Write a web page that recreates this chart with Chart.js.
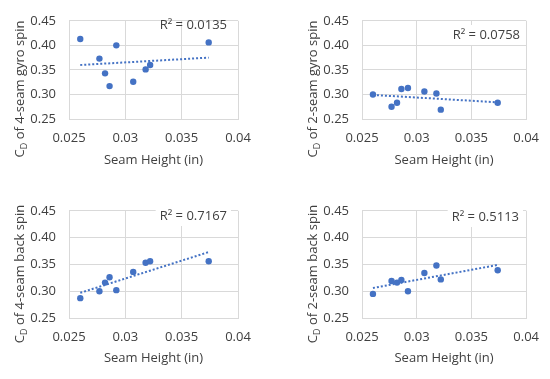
<!DOCTYPE html>
<html>
<head>
<meta charset="utf-8">
<script src="https://cdn.jsdelivr.net/npm/chart.js@4.4.1/dist/chart.umd.min.js"></script>
<style>
  body { margin: 0; background: #fff; width: 550px; height: 379px; position: relative; overflow: hidden; }
  canvas { position: absolute; }
</style>
</head>
<body>
<canvas id="c1" width="275" height="190" style="left:0;top:0"></canvas>
<canvas id="c2" width="275" height="190" style="left:275px;top:0"></canvas>
<canvas id="c3" width="275" height="189" style="left:0;top:190px"></canvas>
<canvas id="c4" width="275" height="189" style="left:275px;top:190px"></canvas>
<script>
// data
const seamHeight = [0.026, 0.0277, 0.0282, 0.0286, 0.0292, 0.0307, 0.0318, 0.0322, 0.0374];
const cd4SeamGyro = [0.413, 0.373, 0.343, 0.317, 0.400, 0.326, 0.351, 0.360, 0.406];
const cd2SeamGyro = [0.300, 0.275, 0.283, 0.311, 0.313, 0.306, 0.302, 0.269, 0.283];
const cd4SeamBack = [0.287, 0.300, 0.316, 0.326, 0.302, 0.336, 0.353, 0.356, 0.356];
const cd2SeamBack = [0.295, 0.319, 0.316, 0.321, 0.300, 0.334, 0.348, 0.322, 0.339];

// linear trendline end points (as drawn)
const trendX = [0.026, 0.0374];
const trend4SeamGyro = [0.360, 0.375];
const trend2SeamGyro = [0.299, 0.284];
const trend4SeamBack = [0.297, 0.373];
const trend2SeamBack = [0.306, 0.349];

const r2Labels = ['R² = 0.0135', 'R² = 0.0758', 'R² = 0.7167', 'R² = 0.5113'];
const yTitles = ['of 4-seam gyro spin', 'of 2-seam gyro spin', 'of 4-seam back spin', 'of 2-seam back spin'];
const xTitle = 'Seam Height (in)';
const xTickValues = [0.025, 0.03, 0.035, 0.04];
const xTickLabels = ['0.025', '0.03', '0.035', '0.04'];
const yTickValues = [0.25, 0.30, 0.35, 0.40, 0.45];
const yTickLabels = ['0.25', '0.30', '0.35', '0.40', '0.45'];

const BLUE = '#4472C4';
const GRID = '#d9d9d9';
const TEXT = '#404040';
const FONT = '"Open Sans", sans-serif';

// layout of each panel (canvas coords)
const panels = [
  { id: 'c1', y: cd4SeamGyro, trend: trend4SeamGyro, plot: { l: 69, r: 238, t: 17, b: 119 }, xTitleY: 160, yTitlePos: [20, 89], r2Pos: [227, 25], box: false },
  { id: 'c2', y: cd2SeamGyro, trend: trend2SeamGyro, plot: { l: 87, r: 255, t: 17, b: 119 }, xTitleY: 160, yTitlePos: [38, 89], r2Pos: [245, 35], box: true },
  { id: 'c3', y: cd4SeamBack, trend: trend4SeamBack, plot: { l: 69, r: 238, t: 15, b: 128 }, xTitleY: 168, yTitlePos: [20, 84], r2Pos: [227, 26], box: true },
  { id: 'c4', y: cd2SeamBack, trend: trend2SeamBack, plot: { l: 87, r: 255, t: 15, b: 128 }, xTitleY: 168, yTitlePos: [38, 84], r2Pos: [244, 27], box: true }
];

const labelsPlugin = {
  id: 'panelLabels',
  afterDraw(chart, args, opts) {
    const ctx = chart.ctx;
    const area = chart.chartArea;
    ctx.save();
    ctx.fillStyle = TEXT;
    ctx.textBaseline = 'middle';

    // x title
    ctx.font = '13px ' + FONT;
    ctx.textAlign = 'center';
    ctx.fillText(xTitle, (area.left + area.right) / 2, opts.xTitleY);

    // y title with subscript D
    ctx.save();
    ctx.translate(opts.yTitlePos[0], opts.yTitlePos[1]);
    ctx.rotate(-Math.PI / 2);
    ctx.textAlign = 'left';
    const big = '13px ' + FONT, small = '9px ' + FONT;
    ctx.font = big;
    const wC = ctx.measureText('C').width;
    const rest = ' ' + opts.yTitle;
    const wRest = ctx.measureText(rest).width;
    ctx.font = small;
    const wD = ctx.measureText('D').width;
    let x = -(wC + wD + wRest) / 2;
    ctx.font = big;
    ctx.fillText('C', x, 0);
    x += wC;
    ctx.font = small;
    ctx.fillText('D', x, 4);
    x += wD;
    ctx.font = big;
    ctx.fillText(rest, x, 0);
    ctx.restore();

    // R² label
    ctx.font = '13px ' + FONT;
    ctx.textAlign = 'right';
    const w = ctx.measureText(opts.r2).width;
    if (opts.box) {
      ctx.fillStyle = '#fff';
      ctx.fillRect(opts.r2Pos[0] - w - 4, opts.r2Pos[1] - 10, w + 8, 20);
      ctx.fillStyle = TEXT;
    }
    ctx.fillText(opts.r2, opts.r2Pos[0], opts.r2Pos[1]);
    ctx.restore();
  }
};

panels.forEach((p, i) => {
  const canvas = document.getElementById(p.id);
  const W = canvas.width, H = canvas.height;
  new Chart(canvas, {
    type: 'scatter',
    data: {
      datasets: [
        {
          type: 'line',
          data: trendX.map((x, k) => ({ x: x, y: p.trend[k] })),
          borderColor: BLUE,
          borderWidth: 2,
          borderDash: [2, 2],
          pointRadius: 0,
          fill: false,
          order: 0
        },
        {
          data: seamHeight.map((x, k) => ({ x: x, y: p.y[k] })),
          backgroundColor: BLUE,
          borderWidth: 0,
          pointRadius: 3.2,
          order: 1
        }
      ]
    },
    options: {
      responsive: false,
      animation: false,
      layout: { padding: { left: 0, top: p.plot.t, right: W - p.plot.r, bottom: 0 } },
      plugins: {
        legend: { display: false },
        tooltip: { enabled: false },
        panelLabels: { xTitleY: p.xTitleY, yTitle: yTitles[i], yTitlePos: p.yTitlePos, r2: r2Labels[i], r2Pos: p.r2Pos, box: p.box }
      },
      scales: {
        x: {
          type: 'linear',
          min: 0.025,
          max: 0.04,
          afterBuildTicks: s => { s.ticks = xTickValues.map(v => ({ value: v })); },
          afterFit: s => { s.height = H - p.plot.b; },
          grid: { color: GRID, drawTicks: false },
          border: { color: GRID },
          ticks: {
            padding: 11,
            color: TEXT,
            font: { family: FONT, size: 13 },
            callback: (v, idx) => xTickLabels[idx]
          }
        },
        y: {
          min: 0.25,
          max: 0.45,
          afterBuildTicks: s => { s.ticks = yTickValues.map(v => ({ value: v })); },
          afterFit: s => { s.width = p.plot.l; },
          grid: { color: GRID, drawTicks: false },
          border: { color: GRID },
          ticks: {
            padding: 13,
            color: TEXT,
            font: { family: FONT, size: 13 },
            callback: (v, idx) => yTickLabels[idx]
          }
        }
      }
    },
    plugins: [labelsPlugin]
  });
});
</script>
</body>
</html>
